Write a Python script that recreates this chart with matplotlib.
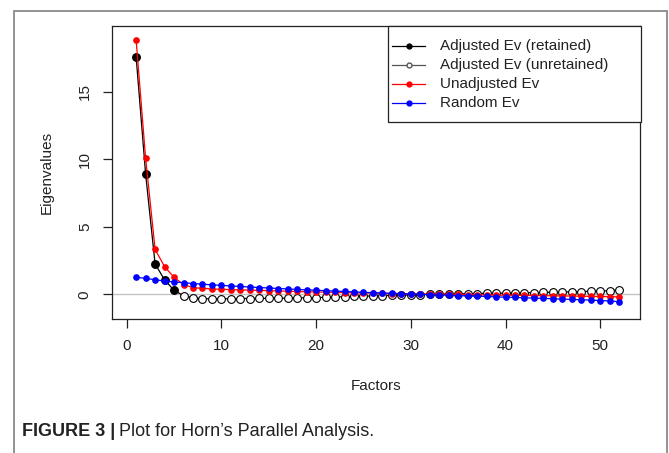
import matplotlib
matplotlib.use("Agg")
import matplotlib.pyplot as plt
from matplotlib import font_manager
from matplotlib.lines import Line2D
from matplotlib.patches import Rectangle


factors = list(range(1, 53))

unadjusted_ev = [
    18.80, 10.07, 3.33, 2.05, 1.26, 0.72, 0.50, 0.44, 0.40, 0.37,
    0.35, 0.33, 0.31, 0.29, 0.27, 0.25, 0.23, 0.21, 0.19, 0.17,
    0.16, 0.14, 0.13, 0.11, 0.10, 0.09, 0.07, 0.06, 0.05, 0.04,
    0.03, 0.02, 0.01, 0.00, -0.01, -0.02, -0.03, -0.04, -0.05, -0.06,
    -0.07, -0.08, -0.09, -0.10, -0.11, -0.12, -0.13, -0.14, -0.15, -0.16,
    -0.17, -0.19,
]

random_ev = [
    1.26, 1.18, 1.08, 0.98, 0.92, 0.86, 0.80, 0.75, 0.70, 0.66,
    0.62, 0.58, 0.54, 0.50, 0.47, 0.43, 0.40, 0.36, 0.33, 0.30,
    0.27, 0.24, 0.21, 0.18, 0.15, 0.12, 0.10, 0.07, 0.05, 0.02,
    0.00, -0.02, -0.05, -0.07, -0.09, -0.12, -0.14, -0.16, -0.19, -0.21,
    -0.23, -0.26, -0.28, -0.30, -0.33, -0.35, -0.38, -0.40, -0.43, -0.46,
    -0.49, -0.55,
]

adjusted_ev = [
    17.55, 8.90, 2.25, 1.07, 0.30, -0.10, -0.25, -0.33, -0.33, -0.32,
    -0.33, -0.31, -0.31, -0.30, -0.30, -0.29, -0.28, -0.27, -0.26, -0.24,
    -0.22, -0.20, -0.18, -0.16, -0.14, -0.12, -0.10, -0.08, -0.06, -0.04,
    -0.02, 0.00, 0.01, 0.02, 0.03, 0.05, 0.06, 0.07, 0.08, 0.09,
    0.10, 0.11, 0.12, 0.14, 0.15, 0.17, 0.18, 0.20, 0.22, 0.24,
    0.27, 0.32,
]

retained = 5

x_ticks = [0, 10, 20, 30, 40, 50]
y_ticks = [0, 5, 10, 15]

legend_labels = [
    "Adjusted Ev (retained)",
    "Adjusted Ev (unretained)",
    "Unadjusted Ev",
    "Random Ev",
]
legend_colors = ["black", "#555555", "red", "blue"]
legend_faces = ["black", "white", "red", "blue"]


def pick_font(names):
    available = {f.name for f in font_manager.fontManager.ttflist}
    for name in names:
        if name in available:
            return name
    return "DejaVu Sans"


def main() -> None:
    chart_font = pick_font(["Liberation Sans", "Arial"])
    caption_font = pick_font(["Liberation Sans Narrow", "Liberation Sans"])

    plt.rcParams["font.family"] = [chart_font, "DejaVu Sans"]

    width, height = 669, 453
    figure = plt.figure(figsize=(width / 100, height / 100), dpi=100)

    def fx(px):
        return px / width

    def fy(py):
        return 1 - py / height

    left, right, top, bottom = 112, 640, 26, 318.5
    axis = figure.add_axes(
        [fx(left), fy(bottom), fx(right - left), (bottom - top) / height]
    )

    axis.axhline(0, color="#c4c4c4", linewidth=1.0, zorder=1)

    axis.plot(
        factors,
        adjusted_ev,
        color="black",
        linewidth=0.9,
        zorder=2,
    )
    axis.plot(
        factors[:retained],
        adjusted_ev[:retained],
        linestyle="none",
        marker="o",
        markersize=5.4,
        color="black",
        zorder=3,
    )
    axis.plot(
        factors[retained:],
        adjusted_ev[retained:],
        linestyle="none",
        marker="o",
        markersize=5.6,
        markerfacecolor="white",
        markeredgecolor="black",
        markeredgewidth=0.8,
        zorder=3,
    )
    axis.plot(
        factors,
        unadjusted_ev,
        color="red",
        linewidth=0.9,
        marker="o",
        markersize=3.8,
        zorder=4,
    )
    axis.plot(
        factors,
        random_ev,
        color="blue",
        linewidth=0.9,
        marker="o",
        markersize=3.8,
        zorder=5,
    )

    axis.set_xlim(-1.55, 54.2)
    axis.set_ylim(-1.79, 19.86)

    axis.set_xticks(x_ticks)
    axis.set_yticks(y_ticks)
    axis.set_xticklabels([str(v) for v in x_ticks])
    axis.set_yticklabels(
        [str(v) for v in y_ticks],
        rotation=90,
        va="center",
    )

    axis.tick_params(
        axis="both",
        direction="out",
        length=6.5,
        width=0.9,
        color="#222222",
        labelsize=11,
        labelcolor="#222222",
    )
    axis.tick_params(axis="x", pad=8)
    axis.tick_params(axis="y", pad=8)

    for spine in axis.spines.values():
        spine.set_linewidth(0.9)
        spine.set_color("#222222")

    # legend drawn by hand so the box and spacing match R's legend()
    figure.add_artist(
        Rectangle(
            (fx(388), fy(122)),
            fx(641 - 388),
            (122 - 26) / height,
            transform=figure.transFigure,
            facecolor="white",
            edgecolor="#222222",
            linewidth=0.9,
            zorder=10,
        )
    )
    for index, label in enumerate(legend_labels):
        row_y = fy(46 + 19 * index)
        figure.add_artist(
            Line2D(
                [fx(392), fx(425)],
                [row_y, row_y],
                transform=figure.transFigure,
                color=legend_colors[index],
                linewidth=0.9,
                zorder=11,
            )
        )
        figure.add_artist(
            Line2D(
                [fx(408.5)],
                [row_y],
                transform=figure.transFigure,
                linestyle="none",
                marker="o",
                markersize=3.5,
                markerfacecolor=legend_faces[index],
                markeredgecolor=legend_colors[index],
                zorder=12,
            )
        )
        figure.text(
            fx(440),
            row_y,
            label,
            ha="left",
            va="center",
            fontsize=11,
            color="#222222",
            zorder=12,
        )

    figure.text(
        fx((left + right) / 2),
        fy(386),
        "Factors",
        ha="center",
        va="center",
        fontsize=11,
        color="#222222",
    )
    figure.text(
        fx(47),
        fy((top + bottom) / 2),
        "Eigenvalues",
        ha="center",
        va="center",
        rotation=90,
        fontsize=11,
        color="#222222",
    )

    figure.add_artist(
        Rectangle(
            (fx(14), -0.1),
            fx(667 - 14),
            1.1 - 11 / height,
            transform=figure.transFigure,
            fill=False,
            edgecolor="#8a8a8a",
            linewidth=1.3,
        )
    )

    bold = figure.text(
        fx(22),
        fy(432),
        "FIGURE 3 |",
        ha="left",
        va="center",
        fontsize=13,
        fontweight="bold",
        family=caption_font,
        color="#222222",
    )
    renderer = figure.canvas.get_renderer()
    extent = bold.get_window_extent(renderer=renderer)
    figure.text(
        (extent.x1 + 4) / width,
        fy(432),
        "Plot for Horn\u2019s Parallel Analysis.",
        ha="left",
        va="center",
        fontsize=13,
        family=caption_font,
        color="#222222",
    )

    figure.savefig("out.png", dpi=100)
    plt.close(figure)


if __name__ == "__main__":
    main()
